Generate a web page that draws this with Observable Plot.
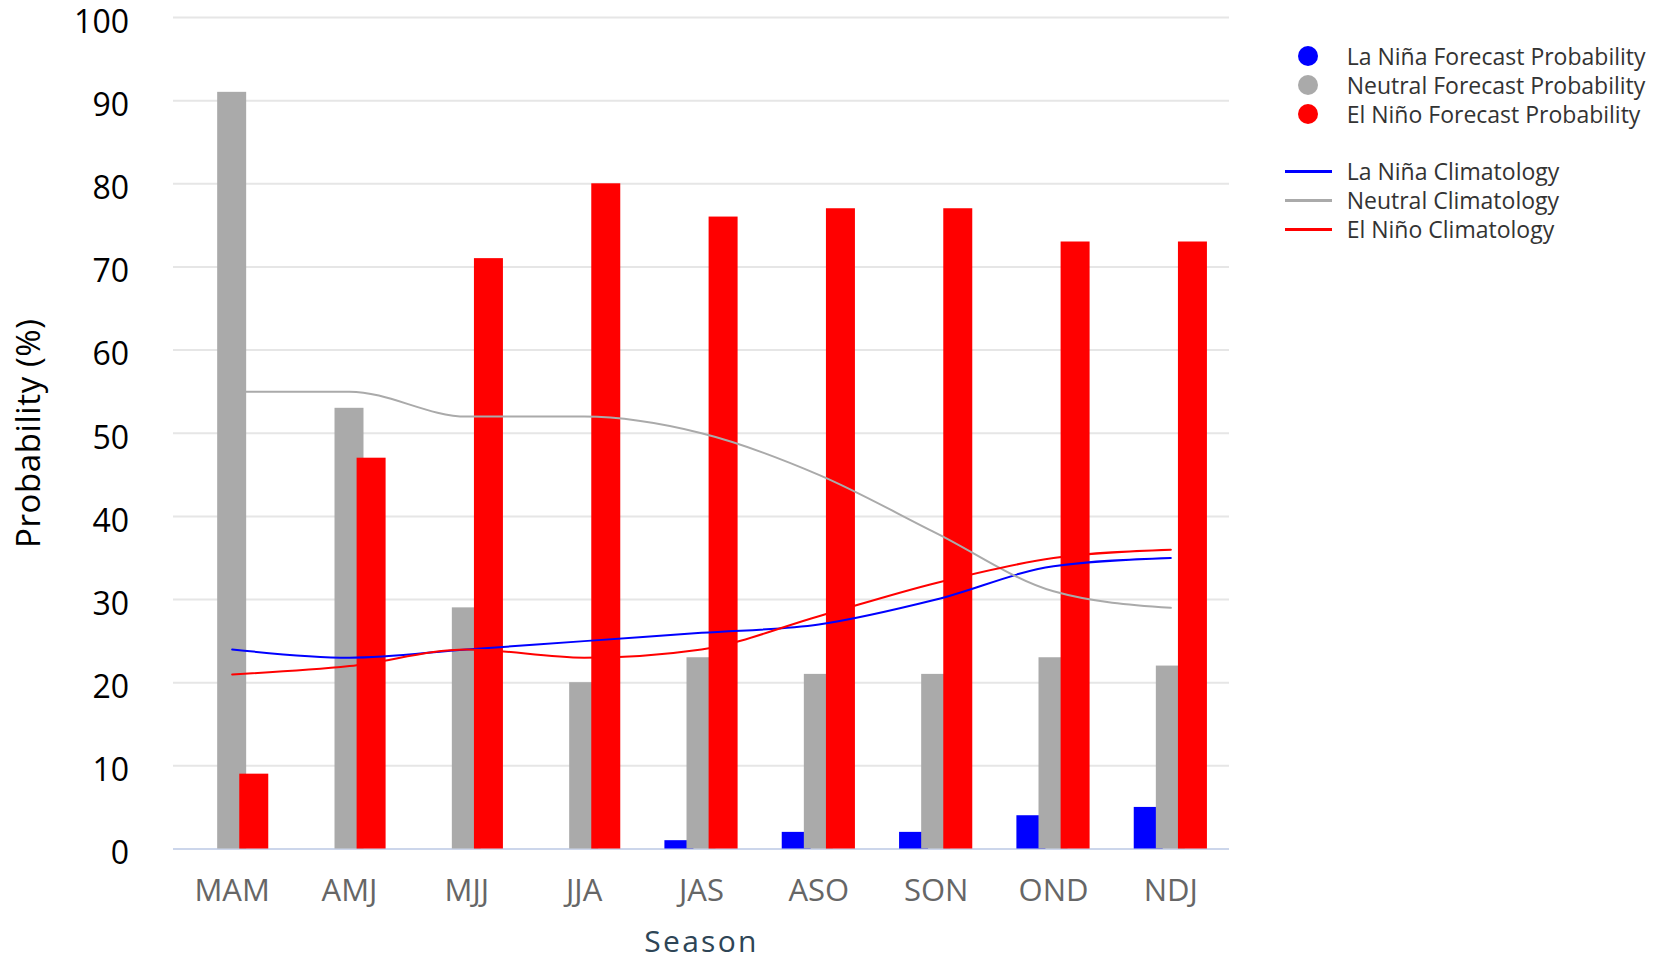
<!DOCTYPE html>
<html>
<head>
<meta charset="utf-8">
<script src="https://cdn.jsdelivr.net/npm/d3@7"></script>
<script src="https://cdn.jsdelivr.net/npm/@observablehq/plot@0.6"></script>
<style>
  html, body { margin: 0; padding: 0; background: #fff; }
  #wrap { position: relative; width: 1665px; height: 961px; overflow: hidden; font-family: "Open Sans", sans-serif; }
  #chart { position: absolute; left: 0; top: 0; }
  #chart g[aria-label="x-axis label"] text { letter-spacing: 2.3px; }
  #chart g[aria-label="y-axis label"] text { letter-spacing: 0.6px; }
  .lg-row { position: absolute; left: 1285px; height: 29px; line-height: 29px; white-space: nowrap; font-size: 23px; color: #333; }
  .lg-dot { position: absolute; left: 13.3px; top: 4.5px; width: 20px; height: 20px; border-radius: 50%; }
  .lg-line { position: absolute; left: 0; top: 13px; width: 47px; height: 3px; }
  .lg-text { position: absolute; left: 61.7px; top: 0; }
</style>
</head>
<body>
<div id="wrap">
  <div id="chart"></div>
</div>
<script>
// ---- data ----
const seasons = ["MAM", "AMJ", "MJJ", "JJA", "JAS", "ASO", "SON", "OND", "NDJ"];
const laNinaProb  = [0, 0, 0, 0, 1, 2, 2, 4, 5];
const neutralProb = [91, 53, 29, 20, 23, 21, 21, 23, 22];
const elNinoProb  = [9, 47, 71, 80, 76, 77, 77, 73, 73];
const laNinaClim  = [24, 23, 24, 25, 26, 27, 30, 34, 35];
const neutralClim = [55, 55, 52, 52, 50, 45, 38, 31, 29];
const elNinoClim  = [21, 22, 24, 23, 24, 28, 32, 35, 36];
const yTicks = [0, 10, 20, 30, 40, 50, 60, 70, 80, 90, 100];
const probLabels = ["La Niña Forecast Probability", "Neutral Forecast Probability", "El Niño Forecast Probability"];
const climLabels = ["La Niña Climatology", "Neutral Climatology", "El Niño Climatology"];
const colors = ["#0000ff", "#aaaaaa", "#ff0000"];

// ---- chart ----
const barInset = 44.17;
const barShift = 22.1;
const probSeries = [laNinaProb, neutralProb, elNinoProb];
const climSeries = [laNinaClim, neutralClim, elNinoClim];

const chart = Plot.plot({
  width: 1665,
  height: 961,
  marginLeft: 173,
  marginRight: 436,
  marginTop: 17,
  marginBottom: 112.5,
  style: { fontFamily: '"Open Sans", sans-serif', background: "#fff", overflow: "visible" },
  x: { type: "band", domain: seasons, padding: 0, round: false },
  y: { domain: [0, 100] },
  marks: [
    Plot.gridY(yTicks, { stroke: "#e6e6e6", strokeOpacity: 1, strokeWidth: 2 }),
    Plot.ruleY([0], { stroke: "#ccd6eb", strokeWidth: 2 }),
    ...probSeries.map((vals, k) =>
      Plot.barY(seasons, {
        x: d => d,
        y: (d, i) => vals[i],
        fill: colors[k],
        insetLeft: barInset,
        insetRight: barInset,
        dx: (k - 1) * barShift
      })
    ),
    ...climSeries.map((vals, k) =>
      Plot.line(seasons, {
        x: d => d,
        y: (d, i) => vals[i],
        stroke: colors[k],
        strokeWidth: 2,
        curve: "monotone-x"
      })
    ),
    Plot.axisY(yTicks, { tickSize: 0, tickPadding: 44.5, fontSize: 32, fill: "#000", dy: 5, label: null }),
    Plot.axisY([], { label: "Probability (%)", labelAnchor: "center", labelOffset: 157, labelArrow: "none", fontSize: 33, fill: "#000", tickSize: 0 }),
    Plot.axisX({ tickSize: 0, tickPadding: 30, fontSize: 31, fill: "#666", label: null }),
    Plot.axisX([], { label: "Season", labelAnchor: "center", labelOffset: 103, labelArrow: "none", fontSize: 30, fill: "#2e4556", tickSize: 0 })
  ]
});
document.getElementById("chart").appendChild(chart);

// ---- legend ----
const wrap = document.getElementById("wrap");
const rowTopsProb = [41.5, 70.5, 99.5];
const rowTopsClim = [157, 186, 215];
probLabels.forEach((lab, k) => {
  const row = document.createElement("div");
  row.className = "lg-row";
  row.style.top = rowTopsProb[k] + "px";
  row.innerHTML = `<span class="lg-dot" style="background:${colors[k]}"></span><span class="lg-text"></span>`;
  row.querySelector(".lg-text").textContent = lab;
  wrap.appendChild(row);
});
climLabels.forEach((lab, k) => {
  const row = document.createElement("div");
  row.className = "lg-row";
  row.style.top = rowTopsClim[k] + "px";
  row.innerHTML = `<span class="lg-line" style="background:${colors[k]}"></span><span class="lg-text"></span>`;
  row.querySelector(".lg-text").textContent = lab;
  wrap.appendChild(row);
});
</script>
</body>
</html>
